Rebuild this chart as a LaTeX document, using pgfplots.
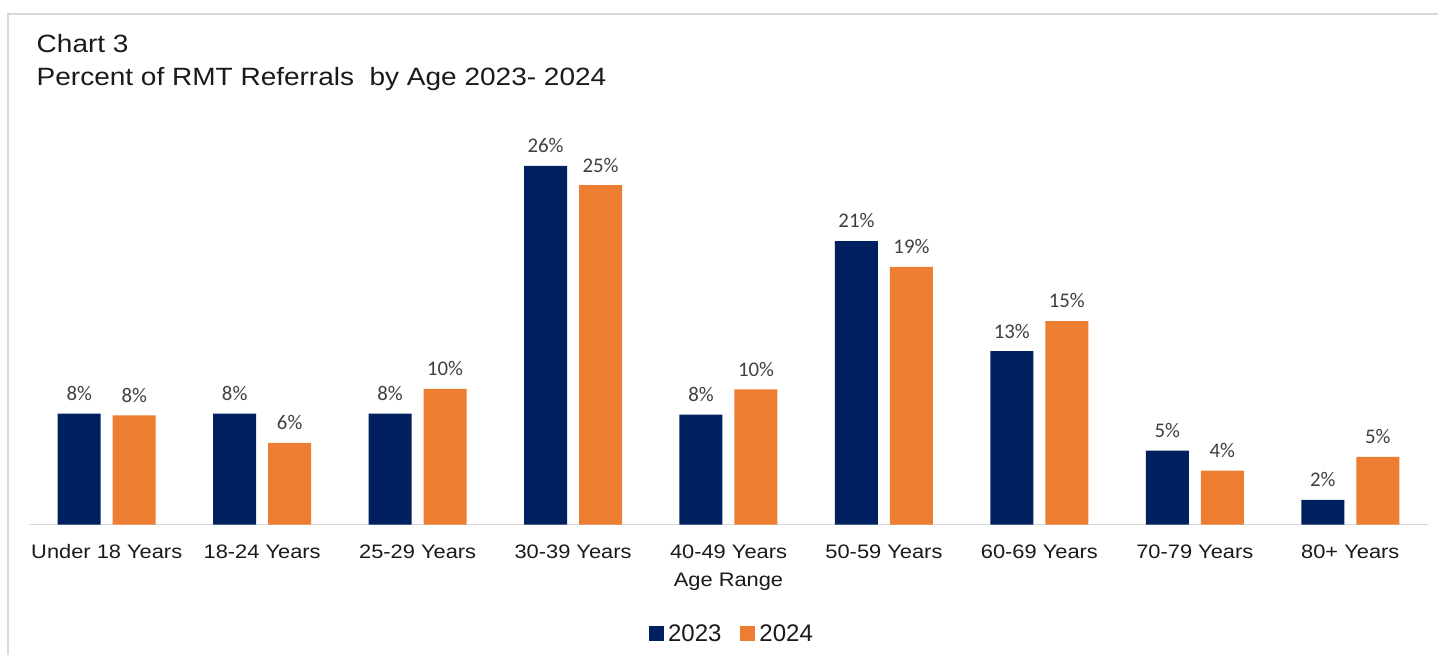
\documentclass[border=0pt]{standalone}
\usepackage{pgfplots}
\pgfplotsset{compat=1.18}
\usepackage{fontspec}
\setmainfont{Liberation Sans}
\newfontfamily\carlito{Carlito}
\definecolor{navy}{HTML}{002060}
\definecolor{orng}{HTML}{ED7D31}
\definecolor{bordergray}{HTML}{D9D9D9}
\definecolor{axgray}{HTML}{D9D9D9}
\definecolor{txt}{HTML}{1A1A1A}
\definecolor{lbl}{HTML}{404040}
\begin{document}
\begin{tikzpicture}
\useasboundingbox (0pt,0pt) rectangle (1438pt,655pt);
\fill[white] (0pt,0pt) rectangle (1438pt,655pt);
\draw[bordergray, line width=2pt] (8pt,0pt) -- (8pt,641pt) -- (1438pt,641pt);
\node[anchor=base west, inner sep=0pt, xscale=1.12, text=txt] at (36.5pt,602.7pt) {\fontsize{25}{30}\selectfont Chart 3};
\node[anchor=base west, inner sep=0pt, xscale=1.12, text=txt] at (36.5pt,569.3pt) {\fontsize{25}{30}\selectfont Percent of RMT Referrals\ \ by Age 2023-\ 2024};
\begin{axis}[
  at={(29pt,130.4pt)}, anchor=south west,
  scale only axis, width=1399pt, height=400pt,
  xmin=-0.5, xmax=8.5, ymin=0, ymax=28.9855,
  ybar, bar width=43pt,
  /pgf/number format/assume math mode=true,
  axis y line=none, axis x line=bottom,
  x axis line style={-, draw=axgray, line width=1.5pt},
  xtick={0,1,2,3,4,5,6,7,8},
  xticklabels={Under 18 Years,18-24 Years,25-29 Years,30-39 Years,40-49 Years,50-59 Years,60-69 Years,70-79 Years,80+ Years},
  major tick length=0pt,
  xticklabel style={anchor=north, inner sep=0pt, yshift=-20pt, xscale=1.12, font=\fontsize{19.5}{23}\selectfont, text=txt},
  xlabel={Age Range},
  xlabel style={at={(axis description cs:0.5,0)}, anchor=north, inner sep=0pt, yshift=-48.7pt, xscale=1.12, font=\fontsize{19.5}{23}\selectfont, text=txt},
  nodes near coords={\pgfmathprintnumber[fixed,precision=0,assume math mode=true]{\pgfplotspointmeta}\%},
  nodes near coords style={anchor=south, inner sep=0pt, yshift=12.7pt, font=\carlito\fontsize{20.8}{25}\selectfont, text=lbl},
  legend columns=2,
  legend style={at={(axis description cs:0.5,0)}, anchor=center, yshift=-109.4pt, xshift=3.5pt, draw=none, fill=none, font=\fontsize{24}{28}\selectfont, text=txt, /tikz/every odd column/.append style={column sep=2pt}, /tikz/every even column/.append style={column sep=17pt}},
  legend image code/.code={\fill[#1, draw=none] (0pt,-7.5pt) rectangle (15pt,7.5pt);},
]
\addplot[fill=navy, draw=none, bar shift=-27.5pt] coordinates {(0,8.04) (1,8.04) (2,8.04) (3,25.99) (4,7.97) (5,20.55) (6,12.57) (7,5.36) (8,1.79)};
\addplot[fill=orng, draw=none, bar shift=27.5pt] coordinates {(0,7.92) (1,5.92) (2,9.83) (3,24.59) (4,9.80) (5,18.67) (6,14.75) (7,3.91) (8,4.90)};
\legend{2023,2024}
\end{axis}
\end{tikzpicture}
\end{document}
